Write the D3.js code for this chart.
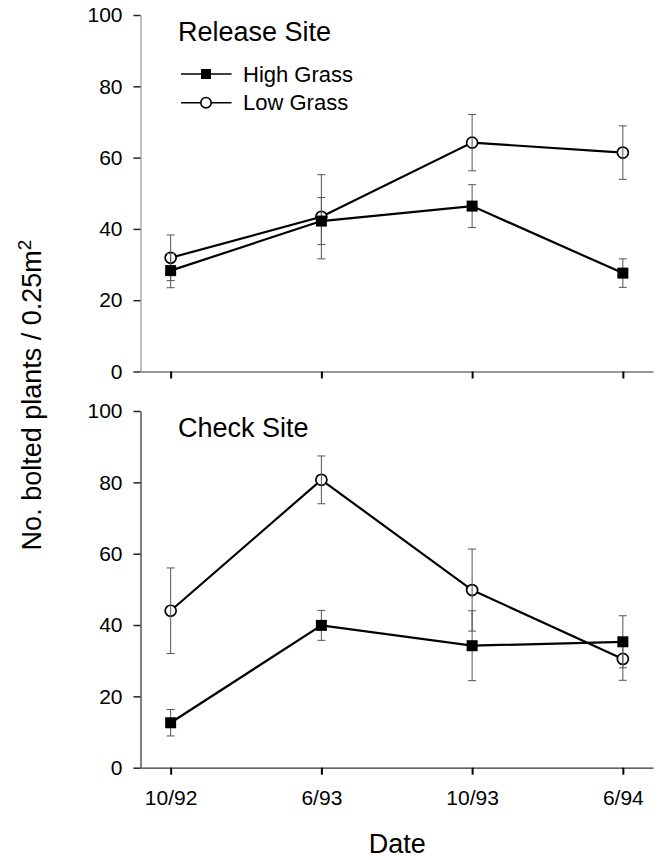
<!DOCTYPE html>
<html>
<head>
<meta charset="utf-8">
<script src="https://cdn.jsdelivr.net/npm/d3@7"></script>
<style>
  body { margin: 0; background: #fff; }
</style>
</head>
<body>
<div id="chart"></div>
<script>
// Data
var dates = ["10/92", "6/93", "10/93", "6/94"];
var yTicks = [0, 20, 40, 60, 80, 100];

// Release site
var releaseHigh = [28.3, 42.2, 46.4, 27.6];
var releaseHighErr = [4.8, 6.6, 6.0, 4.0];
var releaseLow = [31.9, 43.4, 64.2, 61.4];
var releaseLowErr = [6.4, 11.8, 7.9, 7.5];

// Check site
var checkHigh = [12.6, 39.9, 34.2, 35.3];
var checkHighErr = [3.7, 4.2, 9.8, 7.3];
var checkLow = [44.0, 80.7, 49.8, 30.5];
var checkLowErr = [12.0, 6.7, 11.5, 6.0];

var font = "'Liberation Sans', Arial, Helvetica, sans-serif";
var W = 661, H = 860;

var svg = d3.select("#chart")
	.append("svg")
	.attr("width", W)
	.attr("height", H)
	.style("font-family", font);

// shared x scale
var x = d3.scalePoint()
	.domain(dates)
	.range([140.5, 653])
	.padding(0.2);

var panels = [
	{ title: "Release Site", top: 15, bottom: 371.5, high: releaseHigh, highErr: releaseHighErr,
	  low: releaseLow, lowErr: releaseLowErr, yAxisColor: "#aaa", labels: false, legend: true },
	{ title: "Check Site", top: 411, bottom: 767.7, high: checkHigh, highErr: checkHighErr,
	  low: checkLow, lowErr: checkLowErr, yAxisColor: "#555", labels: true, legend: false }
];

panels.forEach(function (p) {
	var y = d3.scaleLinear().domain([0, 100]).range([p.bottom, p.top]);

	// y axis
	var gy = svg.append("g")
		.attr("transform", "translate(" + x.range()[0] + ",0)")
		.call(d3.axisLeft(y).tickValues(yTicks).tickSize(7).tickSizeOuter(0).tickPadding(11));
	gy.attr("font-family", font).attr("font-size", 21);
	gy.select(".domain").attr("stroke", p.yAxisColor).attr("stroke-width", 1.5);
	gy.selectAll(".tick line").attr("stroke", "#222").attr("stroke-width", 1.5);
	gy.selectAll(".tick text").attr("fill", "#000");

	// x axis
	var gx = svg.append("g")
		.attr("transform", "translate(0," + p.bottom + ")")
		.call(d3.axisBottom(x).tickSize(7).tickSizeOuter(0).tickPadding(15));
	gx.attr("font-family", font).attr("font-size", 21);
	gx.select(".domain").attr("stroke", "#333").attr("stroke-width", 1.2);
	gx.selectAll(".tick line").attr("stroke", "#000").attr("stroke-width", 2);
	gx.selectAll(".tick text").attr("fill", "#000");
	if (!p.labels) gx.selectAll(".tick text").remove();

	// panel title
	svg.append("text")
		.attr("x", 178)
		.attr("y", p.top + 25.5)
		.style("font-size", "27px")
		.text(p.title);

	var line = d3.line()
		.x(function (d, i) { return x(dates[i]); })
		.y(function (d) { return y(d); });

	// lines
	[p.low, p.high].forEach(function (s) {
		svg.append("path")
			.datum(s)
			.attr("d", line)
			.attr("fill", "none")
			.attr("stroke", "#000")
			.attr("stroke-width", 2.2);
	});

	// open circles (Low Grass)
	svg.selectAll(null)
		.data(p.low)
		.enter()
		.append("circle")
		.attr("cx", function (d, i) { return x(dates[i]); })
		.attr("cy", function (d) { return y(d); })
		.attr("r", 5.5)
		.attr("fill", "#fff")
		.attr("stroke", "#000")
		.attr("stroke-width", 1.7);

	// error bars, both series
	[[p.low, p.lowErr], [p.high, p.highErr]].forEach(function (s) {
		var g = svg.append("g").attr("stroke", "#555").attr("stroke-width", 1);
		s[0].forEach(function (v, i) {
			var cx = x(dates[i]);
			g.append("line").attr("x1", cx).attr("x2", cx)
				.attr("y1", y(v + s[1][i])).attr("y2", y(v - s[1][i]));
			[v + s[1][i], v - s[1][i]].forEach(function (e) {
				g.append("line").attr("x1", cx - 4).attr("x2", cx + 4)
					.attr("y1", y(e)).attr("y2", y(e));
			});
		});
	});

	// filled squares (High Grass)
	svg.selectAll(null)
		.data(p.high)
		.enter()
		.append("rect")
		.attr("x", function (d, i) { return x(dates[i]) - 5.5; })
		.attr("y", function (d) { return y(d) - 5.5; })
		.attr("width", 11)
		.attr("height", 11)
		.attr("fill", "#000");

	// legend
	if (p.legend) {
		var leg = [{ name: "High Grass", shape: "square", cy: 74 }, { name: "Low Grass", shape: "circle", cy: 102.7 }];
		leg.forEach(function (l) {
			svg.append("line")
				.attr("x1", 181).attr("x2", 231.5)
				.attr("y1", l.cy).attr("y2", l.cy)
				.attr("stroke", "#000").attr("stroke-width", 1.5);
			if (l.shape == "square") {
				svg.append("rect").attr("x", 201).attr("y", l.cy - 5).attr("width", 10).attr("height", 10).attr("fill", "#000");
			} else {
				svg.append("circle").attr("cx", 206).attr("cy", l.cy).attr("r", 5.2)
					.attr("fill", "#fff").attr("stroke", "#000").attr("stroke-width", 1.6);
			}
			svg.append("text")
				.attr("x", 243)
				.attr("y", l.cy + 7.5)
				.style("font-size", "22px")
				.text(l.name);
		});
	}
});

// axis titles
svg.append("text")
	.attr("x", x.range()[0] + (x.range()[1] - x.range()[0]) / 2 + 0.5)
	.attr("y", 853)
	.attr("text-anchor", "middle")
	.style("font-size", "27px")
	.text("Date");

var yl = svg.append("text")
	.attr("transform", "translate(41,395) rotate(-90)")
	.attr("text-anchor", "middle")
	.style("font-size", "27px")
	.text("No. bolted plants / 0.25m");
yl.append("tspan")
	.attr("dy", -10)
	.style("font-size", "19px")
	.text("2");
</script>
</body>
</html>
